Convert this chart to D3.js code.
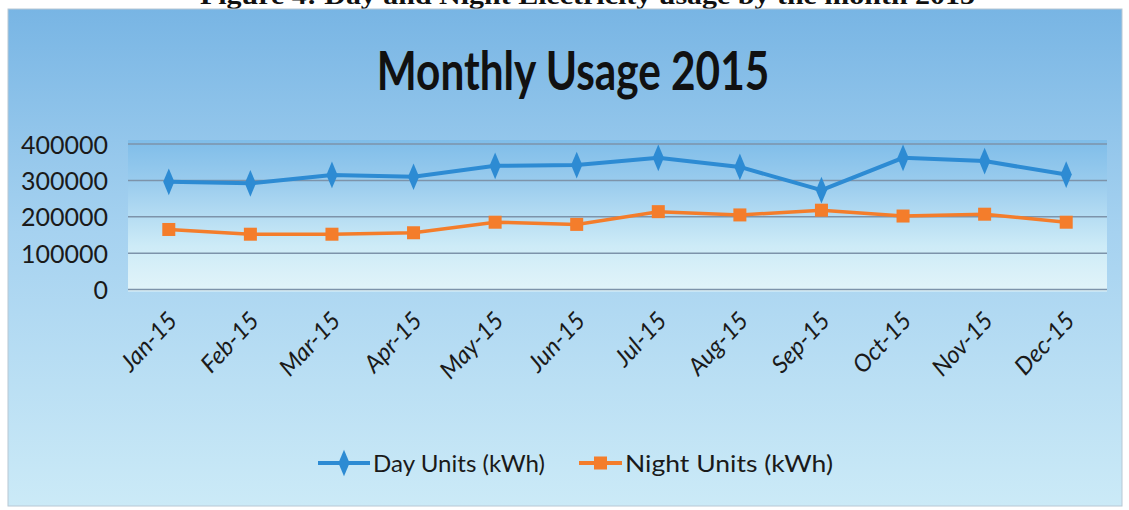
<!DOCTYPE html>
<html><head><meta charset="utf-8">
<script src="https://cdn.jsdelivr.net/npm/d3@7"></script>
<style>html,body{margin:0;padding:0;background:#fff;overflow:hidden}</style>
</head><body>
<svg id="c" width="1129" height="510"></svg>
<script>
const months = ["Jan-15","Feb-15","Mar-15","Apr-15","May-15","Jun-15","Jul-15","Aug-15","Sep-15","Oct-15","Nov-15","Dec-15"];
const dayUnits = [296000,292000,315000,310000,340000,342000,362000,337000,273000,362000,353000,316000];
const nightUnits = [165000,152000,152000,156000,185000,179000,214000,205000,218000,202000,207000,185000];
const yTicks = [0,100000,200000,300000,400000];
const seriesNames = ["Day Units (kWh)","Night Units (kWh)"];
const titleText = "Monthly Usage 2015";
const captionText = "Figure 4: Day and Night Electricity usage by the month 2015";

const svg = d3.select("#c");
const defs = svg.append("defs");
const bg = defs.append("linearGradient").attr("id","bg").attr("x1",0).attr("y1",0).attr("x2",0).attr("y2",1);
bg.append("stop").attr("offset","0%").attr("stop-color","#78b5e4");
bg.append("stop").attr("offset","45%").attr("stop-color","#a6d2f0");
bg.append("stop").attr("offset","100%").attr("stop-color","#cbeaf7");
const pg = defs.append("linearGradient").attr("id","pg").attr("x1",0).attr("y1",0).attr("x2",0).attr("y2",1);
pg.append("stop").attr("offset","0%").attr("stop-color","#7fbde9");
pg.append("stop").attr("offset","30%").attr("stop-color","#9ccdee");
pg.append("stop").attr("offset","70%").attr("stop-color","#cdebf7");
pg.append("stop").attr("offset","100%").attr("stop-color","#e2f4f9");

// caption (cut off at top, as in the source scan)
svg.append("text").attr("x",200).attr("y",4)
  .attr("font-family","Liberation Serif").attr("font-weight","bold").attr("font-size",26)
  .attr("textLength",775).attr("lengthAdjust","spacingAndGlyphs")
  .attr("fill","#111").text(captionText);

// chart box
svg.append("rect").attr("x",8).attr("y",9).attr("width",1114).attr("height",497)
  .attr("fill","url(#bg)").attr("stroke","#b8c8d4").attr("stroke-width",1);

const m = {left:128, right:1107, top:144, bottom:289.5};
const x = d3.scaleBand().domain(months).range([m.left,m.right]);
const y = d3.scaleLinear().domain([0,400000]).range([m.bottom,m.top]);

svg.append("rect").attr("x",m.left).attr("y",m.top-4).attr("width",m.right-m.left).attr("height",m.bottom-m.top+6)
  .attr("fill","url(#pg)");

// title
svg.append("text").attr("x",573).attr("y",90).attr("text-anchor","middle")
  .attr("font-family","Lato").attr("font-weight","bold").attr("font-size",46)
  .attr("fill","#111").attr("transform","translate(573,90) scale(0.92,1.15) translate(-573,-90)")
  .text(titleText);

// grid
svg.append("g").selectAll("line").data(yTicks).join("line")
  .attr("x1",m.left).attr("x2",m.right).attr("y1",d=>y(d)).attr("y2",d=>y(d))
  .attr("stroke","#7d93aa").attr("stroke-width",1.5);

// y axis
const ya = svg.append("g").attr("transform",`translate(${m.left-20},0)`)
  .call(d3.axisLeft(y).tickValues(yTicks).tickSize(0).tickPadding(0).tickFormat(d3.format("d")));
ya.select(".domain").remove();
ya.selectAll("text").attr("font-family","Lato").attr("font-size",25).attr("fill","#1a1a1a").attr("dy","0.36em");

// x axis labels
const xa = svg.append("g").attr("transform",`translate(0,${m.bottom})`)
  .call(d3.axisBottom(x).tickSize(0).tickPadding(0));
xa.select(".domain").remove();
xa.selectAll("text").attr("font-family","Lato").attr("font-style","italic").attr("font-size",24).attr("fill","#1a1a1a")
  .attr("text-anchor","end").attr("dy",0)
  .attr("transform","translate(10,32) rotate(-47)");

const cx = d => x(d) + x.bandwidth()/2;
const line = d3.line().x((d,i)=>cx(months[i])).y(d=>y(d));

const dayColor = "#2d8bd3", nightColor = "#f47d2b";
svg.append("path").datum(nightUnits).attr("d",line).attr("fill","none").attr("stroke",nightColor).attr("stroke-width",3.5);
svg.append("g").selectAll("rect").data(nightUnits).join("rect")
  .attr("x",(d,i)=>cx(months[i])-6.5).attr("y",d=>y(d)-6.5).attr("width",13).attr("height",13).attr("fill",nightColor);
svg.append("path").datum(dayUnits).attr("d",line).attr("fill","none").attr("stroke",dayColor).attr("stroke-width",4);
const diamond = d3.symbol().type(d3.symbolDiamond).size(170);
svg.append("g").selectAll("path").data(dayUnits).join("path")
  .attr("d",diamond).attr("transform",(d,i)=>`translate(${cx(months[i])},${y(d)}) scale(0.8,1.1)`).attr("fill",dayColor);

// legend
const lg = svg.append("g");
const items = [
  {name:seriesNames[0], color:dayColor, sym:"d", x:318, w:52, tw:172},
  {name:seriesNames[1], color:nightColor, sym:"s", x:579, w:43, tw:208}
];
items.forEach(it=>{
  lg.append("line").attr("x1",it.x).attr("x2",it.x+it.w).attr("y1",463).attr("y2",463).attr("stroke",it.color).attr("stroke-width",4);
  if(it.sym==="d") lg.append("path").attr("d",diamond).attr("transform",`translate(${it.x+it.w/2},463) scale(0.8,1.1)`).attr("fill",it.color);
  else lg.append("rect").attr("x",it.x+it.w/2-6.5).attr("y",456.5).attr("width",13).attr("height",13).attr("fill",it.color);
  lg.append("text").attr("x",it.x+it.w+3).attr("y",463).attr("dy","0.36em")
    .attr("font-family","Lato").attr("font-size",24).attr("textLength",it.tw).attr("lengthAdjust","spacingAndGlyphs")
    .attr("fill","#1a1a1a").text(it.name);
});
</script>
</body></html>
